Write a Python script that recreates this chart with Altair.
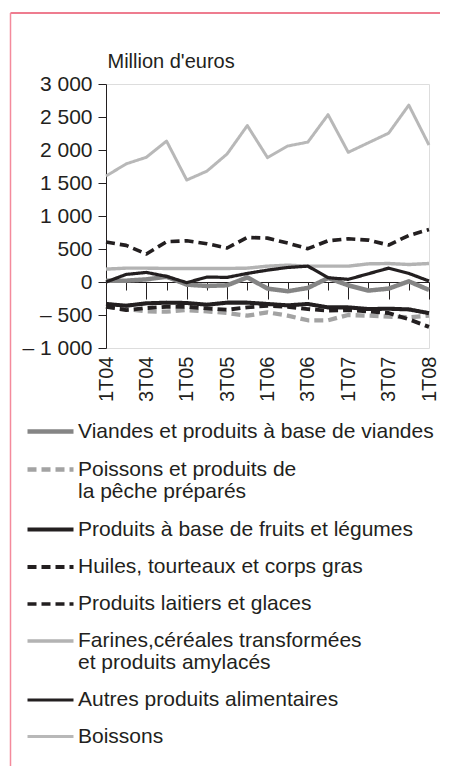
import altair as alt
import pandas as pd

quarters = ["1T04", "2T04", "3T04", "4T04", "1T05", "2T05", "3T05", "4T05",
            "1T06", "2T06", "3T06", "4T06", "1T07", "2T07", "3T07", "4T07", "1T08"]
labeled = quarters[::2]

series = [
    "Viandes et produits à base de viandes",
    "Poissons et produits de\nla pêche préparés",
    "Produits à base de fruits et légumes",
    "Huiles, tourteaux et corps gras",
    "Produits laitiers et glaces",
    "Farines,céréales transformées\net produits amylacés",
    "Autres produits alimentaires",
    "Boissons",
]

viandes = [20, 20, 40, 80, -40, -60, -50, 70, -100, -140, -90, 60, -50, -130, -100, 10, -120]
poissons = [-370, -410, -445, -450, -425, -445, -470, -510, -460, -510, -580, -580, -500, -510, -525, -535, -510]
fruits = [-333, -359, -323, -313, -318, -344, -313, -313, -333, -354, -333, -385, -385, -410, -405, -415, -472]
huiles = [-375, -425, -395, -375, -375, -400, -420, -385, -360, -375, -410, -435, -425, -445, -470, -565, -680]
laitiers = [605, 555, 425, 610, 625, 580, 515, 675, 665, 590, 505, 625, 655, 635, 560, 705, 795]
farines = [195, 210, 210, 205, 205, 205, 205, 210, 240, 255, 240, 240, 240, 275, 280, 265, 280]
autres = [0, 115, 145, 85, -10, 75, 70, 130, 180, 220, 240, 65, 40, 125, 210, 130, 15]
boissons = [1605, 1790, 1890, 2135, 1545, 1680, 1940, 2370, 1885, 2060, 2120, 2535, 1965, 2110, 2255, 2680, 2075]

all_values = [viandes, poissons, fruits, huiles, laitiers, farines, autres, boissons]

colors = ["#858585", "#a3a3a3", "#231f20", "#231f20", "#231f20", "#b3b3b3", "#231f20", "#b8b8b8"]
widths = [4.5, 3, 3.2, 3.2, 1.8, 2.2, 1.8, 4]
dashes = [[1, 0], [9, 5], [1, 0], [9, 5], [9, 5], [1, 0], [1, 0], [1, 0]]

rows = []
for name, vals in zip(series, all_values):
    for i, (q, v) in enumerate(zip(quarters, vals)):
        rows.append({"Trimestre": q, "idx": i, "Série": name, "Valeur": v})
df = pd.DataFrame(rows)

FONT = "Liberation Sans"
TXT = "#231f20"

label_test = "indexof(" + str(labeled) + ", datum.value) >= 0"

lines = alt.Chart(df).mark_line(strokeJoin="round").encode(
    x=alt.X("Trimestre:O", sort=quarters, scale=alt.Scale(padding=0),
            axis=alt.Axis(orient="bottom", values=labeled, title=None, domain=False, ticks=False,
                          labelAngle=-90, labelAlign="right", labelBaseline="middle",
                          labelPadding=8, labelFontSize=20, labelFont=FONT, labelColor=TXT)),
    y=alt.Y("Valeur:Q", scale=alt.Scale(domain=[-1000, 3000], nice=False),
            axis=alt.Axis(values=list(range(-1000, 3001, 500)), title="Million d'euros",
                          titleAngle=0, titleAlign="left", titleBaseline="alphabetic",
                          titleX=1, titleY=-17, titleFontSize=20, titleFontWeight="normal",
                          titleFont=FONT, titleColor=TXT,
                          labelExpr="(datum.value < 0 ? '– ' : '') + replace(format(abs(datum.value), ',d'), ',', ' ')",
                          labelFontSize=21, labelFont=FONT, labelColor=TXT, labelPadding=6,
                          tickSize=8, tickColor=TXT, domainColor=TXT, grid=False)),
    color=alt.Color("Série:N", sort=series, scale=alt.Scale(domain=series, range=colors),
                    legend=alt.Legend(orient="none", legendX=-81, legendY=322, title=None,
                                      symbolType="stroke", symbolSize=2116,
                                      labelFontSize=21, labelFont=FONT, labelColor=TXT,
                                      labelLimit=0, rowPadding=2, labelOffset=2,
                                      labelExpr="split(datum.label, '\\n')")),
    strokeDash=alt.StrokeDash("Série:N", sort=series, scale=alt.Scale(domain=series, range=dashes)),
    strokeWidth=alt.StrokeWidth("Série:N", sort=series, scale=alt.Scale(domain=series, range=widths)),
    order=alt.Order("idx:Q"),
)

zero_axis = alt.Chart(pd.DataFrame({"Trimestre": quarters})).mark_point(opacity=0).encode(
    x=alt.X("Trimestre:O", sort=quarters, scale=alt.Scale(padding=0),
            axis=alt.Axis(orient="bottom", offset=-66, labels=False, title=None,
                          domainColor=TXT, tickColor=TXT,
                          tickSize={"condition": {"test": label_test, "value": 17}, "value": 8})),
    y=alt.value(0),
)

frame_top = alt.Chart(alt.Data(values=[{}])).mark_rule(color="#e8506a", strokeWidth=1.5).encode(
    x=alt.value(-95.5), x2=alt.value(334), y=alt.value(-71))
frame_left = alt.Chart(alt.Data(values=[{}])).mark_rule(color="#f48a9c", strokeWidth=1.5).encode(
    x=alt.value(-95.5), y=alt.value(-71), y2=alt.value(682))

chart = alt.layer(frame_top, frame_left, lines, zero_axis).resolve_axis(x="independent").properties(
    width=323, height=264,
    padding={"left": 1, "top": 4, "right": 0, "bottom": 0},
).configure_view(strokeWidth=0).configure(style={"guide-label": {"lineHeight": 22}})

chart.save("out.html", embed_options={"renderer": "svg", "actions": False})
